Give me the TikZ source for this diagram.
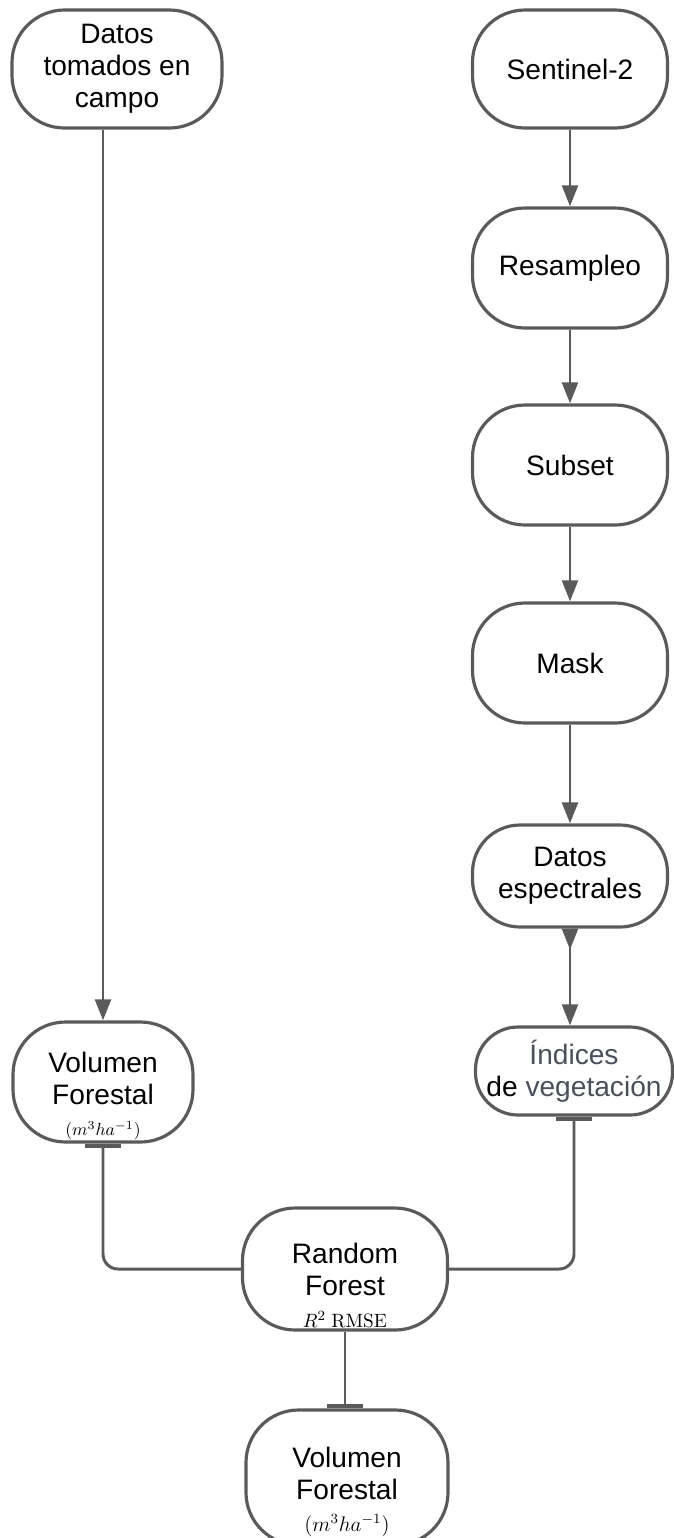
\documentclass[tikz,border=0pt]{standalone}
\usepackage[no-math]{fontspec}
\setmainfont{Liberation Sans}
\usetikzlibrary{positioning, arrows.meta}
\definecolor{linegray}{HTML}{5A5A5A}
\definecolor{txtgray}{HTML}{4A4F5A}

\begin{document}
\begin{tikzpicture}[
    box/.style={draw=linegray, line width=1.8pt, rounded corners=1.05cm, align=center,
        font=\fontsize{16}{18.2}\selectfont, inner sep=0pt, minimum width=3.9cm, minimum height=2.4cm},
    txt/.style={align=center, font=\fontsize{16}{18.2}\selectfont, inner sep=0pt},
    arr/.style={draw=linegray, line width=1.7pt, -{Triangle[length=12pt, width=9pt]}},
    tee/.style={draw=linegray, line width=1.7pt, rounded corners=0.3cm},
    ]

    \useasboundingbox (0, 0) rectangle (13.48, -30.76);

    % Field data branch
    \node[box, minimum width=4.2cm, minimum height=2.36cm] (campo) at (2.34, -1.38)
        {Datos\\tomados en\\campo};
    \node[box, minimum width=3.6cm] (volL) at (2.06, -21.64) {};
    \node[txt] (volLtxt) at ([yshift=-0.28cm]volL.center)
        {Volumen\\Forestal\\{\fontsize{10}{11}\selectfont$(m^3ha^{-1})$}};

    % Satellite chain
    \node[box, minimum height=2.36cm] (sentinel) at (11.4, -1.38) {Sentinel-2};
    \node[box] (resampleo) at (11.4, -5.36) {Resampleo};
    \node[box] (subset) at (11.4, -9.3) {Subset};
    \node[box] (mask) at (11.4, -13.26) {Mask};
    \node[box, minimum height=2.04cm, rounded corners=0.95cm] (espectrales) at (11.4, -17.52)
        {Datos\\espectrales};
    \node[box, minimum width=3.94cm, minimum height=1.76cm, rounded corners=0.85cm] (indices)
        at (11.48, -21.42) {{\color{txtgray}Índices}\\de {\color{txtgray}vegetación}};

    % Model and result
    \node[box, minimum width=4.1cm, minimum height=2.44cm] (rf) at (6.9, -25.38) {};
    \node[txt] (rftxt) at ([yshift=-0.32cm]rf.center)
        {Random\\Forest\\{\fontsize{11}{12}\selectfont$R^2\ \mathrm{RMSE}$}};
    \node[box, minimum width=4.04cm, minimum height=2.7cm] (volB) at (6.94, -29.55) {};
    \node[txt] (volBtxt) at ([yshift=-0.28cm]volB.center)
        {Volumen\\Forestal\\{\fontsize{12}{13}\selectfont$(m^3ha^{-1})$}};

    % Arrows
    \draw[arr] (campo.south -| volL.north) -- (volL.north);
    \draw[arr] (sentinel) -- (resampleo);
    \draw[arr] (resampleo) -- (subset);
    \draw[arr] (subset) -- (mask);
    \draw[arr] (mask) -- (espectrales);
    \draw[arr, {Triangle[reversed, length=12pt, width=9pt]}-{Triangle[length=12pt, width=9pt]}]
        (espectrales.south) -- (espectrales.south |- indices.north);

    % Joins into the model
    \draw[tee, {Bar[width=21pt, line width=2.4pt]}-] (volL.south) |- (rf.west);
    \draw[tee, {Bar[width=21pt, line width=2.4pt]}-] (indices.south) |- (rf.east);
    \draw[tee, -{Bar[width=21pt, line width=2.4pt]}] (rf.south) -- (rf.south |- volB.north);

\end{tikzpicture}
\end{document}
